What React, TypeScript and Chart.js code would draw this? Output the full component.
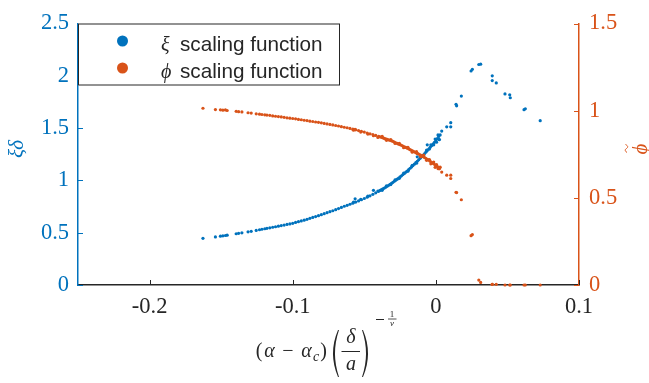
import React, { useEffect, useRef } from "react";
import { Chart, registerables } from "chart.js";

Chart.register(...registerables);

// ---- data ----
const xVals = [
  -0.1627, -0.154, -0.1505, -0.1488, -0.147, -0.1458, -0.1395, -0.1378, -0.1355, -0.1312,
  -0.129, -0.1255, -0.1232, -0.1215, -0.1195, -0.118, -0.116, -0.114, -0.112, -0.11,
  -0.108, -0.106, -0.104, -0.102, -0.1, -0.098, -0.096, -0.094, -0.092, -0.09,
  -0.088, -0.086, -0.084, -0.082, -0.08, -0.078, -0.076, -0.074, -0.072, -0.07,
  -0.068, -0.066, -0.064, -0.062, -0.06, -0.058, -0.056, -0.054, -0.052, -0.05,
  -0.048, -0.046, -0.044, -0.042, -0.04, -0.039, -0.038, -0.037, -0.036, -0.035,
  -0.034, -0.033, -0.032, -0.031, -0.03, -0.029, -0.028, -0.027, -0.026, -0.025,
  -0.024, -0.023, -0.022, -0.021, -0.02, -0.019, -0.018, -0.017, -0.016, -0.015,
  -0.014, -0.013, -0.012, -0.011, -0.01, -0.009, -0.008, -0.007, -0.006, -0.005,
  -0.004, -0.003, -0.002, -0.001, 0.0, 0.001, 0.002,
  -0.0575, -0.0525, -0.0475, -0.0436, -0.0405, -0.0375, -0.0345, -0.0315, -0.0285, -0.0255,
  -0.0225, -0.0195, -0.0165, -0.0135, -0.0105, -0.0085, -0.0065, -0.0045, -0.0035, -0.0015,
  -0.0005, 0.0005, 0.0015, 0.0025, -0.0564, -0.006, -0.013,
  0.0041, 0.003, 0.0022, 0.0076, 0.0104, 0.0104, 0.0141, 0.0145, 0.0178, 0.0246,
  0.0255, 0.03, 0.0313, 0.0394, 0.0394, 0.0422, 0.0483, 0.0516, 0.052, 0.0616,
  0.0625, 0.0729,
];

const xiVals = [
  0.446, 0.46, 0.467, 0.47, 0.473, 0.476, 0.49, 0.494, 0.499, 0.508,
  0.513, 0.522, 0.528, 0.533, 0.538, 0.542, 0.547, 0.552, 0.557, 0.562,
  0.568, 0.573, 0.579, 0.584, 0.59, 0.598, 0.605, 0.613, 0.62, 0.628,
  0.637, 0.646, 0.654, 0.663, 0.672, 0.682, 0.691, 0.701, 0.71, 0.72,
  0.731, 0.742, 0.753, 0.762, 0.772, 0.782, 0.793, 0.804, 0.815, 0.827,
  0.84, 0.853, 0.867, 0.881, 0.896, 0.904, 0.911, 0.919, 0.927, 0.935,
  0.944, 0.953, 0.963, 0.972, 0.982, 0.992, 1.002, 1.012, 1.023, 1.033,
  1.044, 1.056, 1.067, 1.079, 1.09, 1.103, 1.116, 1.129, 1.142, 1.155,
  1.169, 1.183, 1.197, 1.211, 1.225, 1.24, 1.255, 1.27, 1.285, 1.3,
  1.316, 1.332, 1.348, 1.364, 1.38, 1.4, 1.42,
  0.792, 0.82, 0.849, 0.905, 0.898, 0.905, 0.948, 0.96, 1.005, 1.02,
  1.07, 1.088, 1.145, 1.165, 1.225, 1.235, 1.29, 1.3, 1.34, 1.34,
  1.395, 1.365, 1.435, 1.39, 0.824, 1.34, 1.225,
  1.472, 1.435, 1.39, 1.512, 1.552, 1.512, 1.728, 1.713, 1.806, 2.046,
  2.062, 2.108, 2.111, 2.0, 1.954, 1.932, 1.827, 1.818, 1.79, 1.676,
  1.685, 1.571,
];

const phiVals = [
  1.014, 1.006, 1.005, 1.003, 1.004, 1.001, 0.996, 0.994, 0.993, 0.988,
  0.986, 0.982, 0.98, 0.978, 0.976, 0.975, 0.973, 0.97, 0.968, 0.966,
  0.964, 0.962, 0.959, 0.957, 0.955, 0.953, 0.95, 0.948, 0.945, 0.943,
  0.94, 0.938, 0.935, 0.933, 0.93, 0.927, 0.924, 0.921, 0.918, 0.915,
  0.912, 0.908, 0.905, 0.902, 0.898, 0.894, 0.89, 0.886, 0.881, 0.877,
  0.872, 0.867, 0.863, 0.858, 0.853, 0.85, 0.847, 0.844, 0.841, 0.838,
  0.835, 0.832, 0.83, 0.827, 0.824, 0.82, 0.816, 0.812, 0.808, 0.805,
  0.801, 0.797, 0.793, 0.789, 0.785, 0.781, 0.776, 0.772, 0.768, 0.764,
  0.759, 0.755, 0.751, 0.746, 0.742, 0.737, 0.732, 0.727, 0.721, 0.716,
  0.71, 0.704, 0.698, 0.692, 0.686, 0.68, 0.674,
  0.888, 0.877, 0.866, 0.856, 0.846, 0.853, 0.83, 0.834, 0.812, 0.812,
  0.788, 0.79, 0.762, 0.765, 0.735, 0.745, 0.715, 0.72, 0.695, 0.705,
  0.675, 0.69, 0.668, 0.668, 0.893, 0.72, 0.755,
  0.648, 0.676, 0.667, 0.63, 0.63, 0.611, 0.532, 0.53, 0.489, 0.283,
  0.289, 0.028, 0.015, 0.004, 0.004, 0.004, 0.0, 0.0, 0.0, 0.0,
  0.0, 0.0,
];

const xTicks = [-0.2, -0.1, 0, 0.1];
const xTickLabels = ["-0.2", "-0.1", "0", "0.1"];
const yTicks = [0, 0.5, 1, 1.5, 2, 2.5];
const yTickLabels = ["0", "0.5", "1", "1.5", "2", "2.5"];
const y2Ticks = [0, 0.5, 1, 1.5];
const y2TickLabels = ["0", "0.5", "1", "1.5"];
const seriesNames = ["scaling function", "scaling function"];
const seriesSymbols = ["ξ", "ϕ"];

const BLUE = "#0072BD";
const ORANGE = "#D95319";
const DARK = "#262626";
const SERIF = "'Liberation Serif', serif";
const SANS = "'Liberation Sans', Arial, sans-serif";

const decorPlugin = {
  id: "decor",
  afterDatasetsDraw(chart: any) {
    const ctx: CanvasRenderingContext2D = chart.ctx;
    const area = chart.chartArea;
    const xs = chart.scales.x;
    const ys = chart.scales.y;
    const ys2 = chart.scales.y2;
    ctx.save();
    // inward tick marks
    const TL = 5;
    ctx.lineWidth = 1;
    ctx.strokeStyle = DARK;
    xTicks.forEach((v) => {
      const px = Math.round(xs.getPixelForValue(v)) + 0.5;
      ctx.beginPath();
      ctx.moveTo(px, area.bottom);
      ctx.lineTo(px, area.bottom - TL);
      ctx.stroke();
    });
    ctx.strokeStyle = BLUE;
    yTicks.forEach((v) => {
      const py = Math.round(ys.getPixelForValue(v)) + 0.5;
      ctx.beginPath();
      ctx.moveTo(area.left, py);
      ctx.lineTo(area.left + TL, py);
      ctx.stroke();
    });
    ctx.strokeStyle = ORANGE;
    y2Ticks.forEach((v) => {
      const py = Math.round(ys2.getPixelForValue(v)) + 0.5;
      ctx.beginPath();
      ctx.moveTo(area.right, py);
      ctx.lineTo(area.right - TL, py);
      ctx.stroke();
    });

    // legend
    const lx = area.left;
    const ly = area.top;
    const lw = 262;
    const lh = 62;
    ctx.fillStyle = "#ffffff";
    ctx.fillRect(lx, ly, lw, lh);
    ctx.strokeStyle = DARK;
    ctx.lineWidth = 1;
    ctx.strokeRect(lx + 0.5, ly + 0.5, lw - 1, lh - 1);
    const colors = [BLUE, ORANGE];
    const rows = [ly + 17.5, ly + 44.5];
    rows.forEach((ry, i) => {
      ctx.fillStyle = colors[i];
      ctx.beginPath();
      ctx.arc(lx + 44.5, ry, 5.5, 0, Math.PI * 2);
      ctx.fill();
      ctx.fillStyle = DARK;
      ctx.textBaseline = "alphabetic";
      ctx.textAlign = "left";
      ctx.font = "italic 20px " + SERIF;
      ctx.fillText(seriesSymbols[i], lx + 83, ry + 9.5);
      ctx.font = "20.7px " + SANS;
      ctx.fillText(seriesNames[i], lx + 102, ry + 9.5);
    });

    // left axis title
    ctx.save();
    ctx.translate(17, 149);
    ctx.rotate(-Math.PI / 2);
    ctx.fillStyle = BLUE;
    ctx.font = "italic 21px " + SERIF;
    ctx.textAlign = "center";
    ctx.textBaseline = "middle";
    ctx.fillText("ξδ", 0, 0);
    ctx.restore();

    // right axis title (phi with tilde)
    ctx.save();
    ctx.translate(641, 149);
    ctx.rotate(-Math.PI / 2);
    ctx.fillStyle = ORANGE;
    ctx.strokeStyle = ORANGE;
    ctx.font = "italic 21px " + SERIF;
    ctx.textAlign = "center";
    ctx.textBaseline = "middle";
    ctx.fillText("ϕ", 0, 0);
    ctx.lineWidth = 1;
    ctx.beginPath();
    ctx.moveTo(-3.5, -14);
    ctx.bezierCurveTo(-1.5, -17, 0, -15.5, 0.5, -14.5);
    ctx.bezierCurveTo(1.5, -13, 3, -12.5, 4.5, -15.5);
    ctx.stroke();
    ctx.restore();

    // x axis title: (alpha - alpha_c) (delta / a)^(-1/nu)
    ctx.fillStyle = DARK;
    ctx.strokeStyle = DARK;
    ctx.textBaseline = "alphabetic";
    ctx.textAlign = "center";
    const base = 357;
    const up = "20px " + SERIF;
    const it = "italic 20px " + SERIF;
    const put = (t: string, font: string, x: number, y = base) => {
      ctx.font = font;
      ctx.fillText(t, x, y);
    };
    put("(", up, 259);
    put("α", it, 269.5);
    put("−", up, 288);
    put("α", it, 306.5);
    put("c", "italic 14px " + SERIF, 316, base + 4);
    put(")", up, 323.5);
    // big parens (filled crescents)
    const paren = (xe: number, xi: number, xo: number) => {
      const d = xi > xo ? 1 : -1;
      ctx.beginPath();
      ctx.moveTo(xe, 330);
      ctx.quadraticCurveTo(xo, 353.5, xe, 377);
      ctx.lineTo(xe + d, 377);
      ctx.quadraticCurveTo(xi, 353.5, xe + d, 330);
      ctx.closePath();
      ctx.fill();
    };
    paren(338, 331, 328);
    paren(363, 370, 373);
    // fraction delta / a
    put("δ", it, 351, 343);
    put("a", it, 351, 370);
    ctx.lineWidth = 1;
    ctx.beginPath();
    ctx.moveTo(341.5, 351.5);
    ctx.lineTo(360, 351.5);
    ctx.stroke();
    // exponent -1/nu
    ctx.beginPath();
    ctx.moveTo(376, 319.5);
    ctx.lineTo(384, 319.5);
    ctx.stroke();
    put("1", "9px " + SERIF, 392, 317);
    ctx.lineWidth = 0.8;
    ctx.beginPath();
    ctx.moveTo(388, 319);
    ctx.lineTo(396.5, 319);
    ctx.stroke();
    put("ν", "italic 9px " + SERIF, 392, 325.5);

    ctx.restore();
  },
};

export default function App() {
  const ref = useRef<HTMLCanvasElement | null>(null);
  useEffect(() => {
    if (!ref.current) return;
    const blueData = xVals.map((x, i) => ({ x, y: xiVals[i] }));
    const orangeData = xVals.map((x, i) => ({ x, y: phiVals[i] }));
    const tickFont = { family: SERIF, size: 22.5 };
    const chart = new Chart(ref.current, {
      type: "scatter",
      data: {
        datasets: [
          {
            label: "ξ scaling function",
            data: blueData,
            yAxisID: "y",
            backgroundColor: BLUE,
            borderWidth: 0,
            pointRadius: 1.6,
            order: 1,
            clip: false as any,
          },
          {
            label: "ϕ scaling function",
            data: orangeData,
            yAxisID: "y2",
            backgroundColor: ORANGE,
            borderWidth: 0,
            pointRadius: 1.6,
            order: 0,
            clip: false as any,
          },
        ],
      },
      options: {
        responsive: false,
        animation: false,
        events: [],
        layout: { padding: { left: 0, right: 0, top: 15, bottom: 0 } },
        plugins: { legend: { display: false }, tooltip: { enabled: false } },
        scales: {
          x: {
            type: "linear",
            min: -0.25,
            max: 0.1,
            afterBuildTicks: (s: any) => {
              s.ticks = xTicks.map((v) => ({ value: v }));
            },
            afterFit: (s: any) => {
              s.height = 98;
            },
            ticks: {
              color: DARK,
              font: tickFont,
              padding: 9,
              maxRotation: 0,
              autoSkip: false,
              callback: (v: any) => {
                const i = xTicks.findIndex((t) => Math.abs(t - v) < 1e-9);
                return i >= 0 ? xTickLabels[i] : "";
              },
            },
            grid: { display: false, drawTicks: false },
            border: { display: true, color: DARK, width: 1.5 },
          },
          y: {
            type: "linear",
            position: "left",
            min: 0,
            max: 2.5,
            afterBuildTicks: (s: any) => {
              s.ticks = yTicks.map((v) => ({ value: v }));
            },
            afterFit: (s: any) => {
              s.width = 78;
            },
            ticks: {
              color: BLUE,
              font: tickFont,
              padding: 9,
              autoSkip: false,
              callback: (v: any) => {
                const i = yTicks.findIndex((t) => Math.abs(t - v) < 1e-9);
                return i >= 0 ? yTickLabels[i] : "";
              },
            },
            grid: { display: false, drawTicks: false },
            border: { display: true, color: BLUE, width: 1.5 },
          },
          y2: {
            type: "linear",
            position: "right",
            min: 0,
            max: 1.5,
            afterBuildTicks: (s: any) => {
              s.ticks = y2Ticks.map((v) => ({ value: v }));
            },
            afterFit: (s: any) => {
              s.width = 70;
            },
            ticks: {
              color: ORANGE,
              font: tickFont,
              padding: 10,
              autoSkip: false,
              callback: (v: any) => {
                const i = y2Ticks.findIndex((t) => Math.abs(t - v) < 1e-9);
                return i >= 0 ? y2TickLabels[i] : "";
              },
            },
            grid: { display: false, drawTicks: false },
            border: { display: true, color: ORANGE, width: 1.5 },
          },
        },
      } as any,
      plugins: [decorPlugin],
    });
    return () => chart.destroy();
  }, []);
  return (
    <div style={{ position: "fixed", left: 0, top: 0, width: 649, height: 383, background: "#fff" }}>
      <canvas ref={ref} width={649} height={383} style={{ display: "block" }} />
    </div>
  );
}
